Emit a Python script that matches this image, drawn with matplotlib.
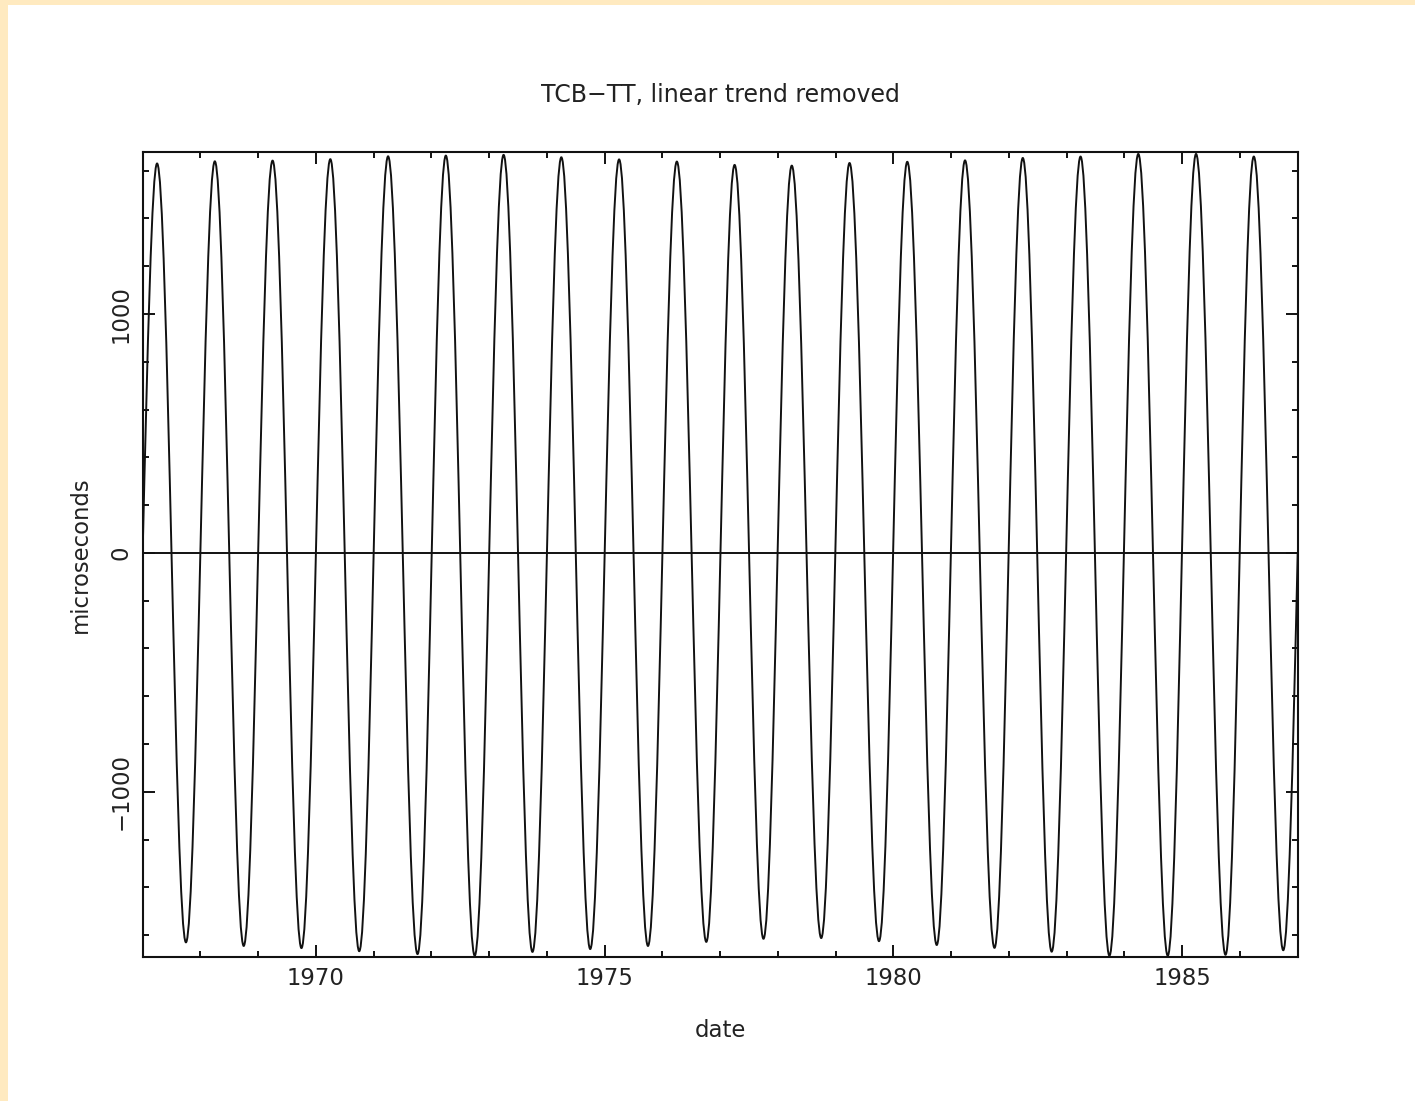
import matplotlib
matplotlib.use("Agg")
import matplotlib.pyplot as plt
from matplotlib.path import Path
from matplotlib.patches import PathPatch, Rectangle
from matplotlib.ticker import MultipleLocator

# turning points of the TCB-TT curve (decimal year, microseconds)
peak_dates = [1967.25, 1968.25, 1969.25, 1970.25, 1971.25, 1972.25, 1973.25, 1974.25, 1975.25, 1976.25,
              1977.25, 1978.24, 1979.24, 1980.24, 1981.24, 1982.24, 1983.24, 1984.24, 1985.24, 1986.24]
peak_values = [1630, 1639, 1642, 1648, 1660, 1663, 1666, 1656, 1647, 1638,
               1624, 1621, 1632, 1637, 1643, 1653, 1659, 1670, 1670, 1659]
trough_dates = [1967.75, 1968.75, 1969.75, 1970.75, 1971.76, 1972.75, 1973.75, 1974.75, 1975.75, 1976.76,
                1977.75, 1978.75, 1979.75, 1980.75, 1981.75, 1982.74, 1983.74, 1984.75, 1985.75, 1986.75]
trough_values = [-1630, -1645, -1654, -1667, -1679, -1686, -1670, -1658, -1645, -1628,
                 -1615, -1612, -1625, -1641, -1653, -1669, -1686, -1686, -1682, -1663]
start_date = 1967.0
end_date = 1987.0

x_major = [1970, 1975, 1980, 1985]
y_major = [-1000, 0, 1000]

plt.rcParams['font.family'] = 'DejaVu Sans'
plt.rcParams['font.size'] = 16.4
ink = '#222222'

fig = plt.figure(figsize=(14.15, 11.01), dpi=100, facecolor='#FFEAC0')
# white page inside the cream frame
fig.add_artist(Rectangle((8 / 1415, 0), 1, 1 - 5 / 1101, transform=fig.transFigure,
                         facecolor='white', edgecolor='none', zorder=-1))

ax = fig.add_axes([0.1008, 0.1311, 0.8163, 0.7308])

# alternate peaks and troughs
turn_x, turn_y = [], []
for a, b, c, d in zip(peak_dates, peak_values, trough_dates, trough_values):
    turn_x += [a, c]
    turn_y += [b, d]

# smooth path through the turning points (cubic bezier segments)
verts = [(start_date, 0)]
dx = turn_x[0] - start_date
verts += [(start_date + 0.326 * dx, 0.512 * turn_y[0]),
          (start_date + 0.655 * dx, turn_y[0]),
          (turn_x[0], turn_y[0])]
for x0, y0, x1, y1 in zip(turn_x[:-1], turn_y[:-1], turn_x[1:], turn_y[1:]):
    k = 0.3634 * (x1 - x0)
    verts += [(x0 + k, y0), (x1 - k, y1), (x1, y1)]
dx = end_date - turn_x[-1]
verts += [(turn_x[-1] + 0.345 * dx, turn_y[-1]),
          (turn_x[-1] + 0.674 * dx, 0.512 * turn_y[-1]),
          (end_date, 0)]
codes = [Path.MOVETO] + [Path.CURVE4] * (len(verts) - 1)
ax.add_patch(PathPatch(Path(verts, codes), fill=False, edgecolor='#111111', lw=1.4))

ax.axhline(0, color='#111111', lw=1.4)

ax.set_xlim(start_date, end_date)
ax.set_ylim(-1690, 1678)

ax.xaxis.set_major_locator(MultipleLocator(5))
ax.xaxis.set_minor_locator(MultipleLocator(1))
ax.yaxis.set_major_locator(MultipleLocator(1000))
ax.yaxis.set_minor_locator(MultipleLocator(200))
ax.set_xticks(x_major)
ax.set_yticks(y_major)
ax.set_yticklabels([f"{v:d}".replace('-', '\u2212') for v in y_major], rotation=90, va='center')

ax.tick_params(which='both', direction='in', top=True, right=True, colors='#111111',
               labelcolor=ink, width=1.4)
ax.tick_params(which='major', length=8.6, pad=7.5)
ax.tick_params(which='minor', length=4.3)
for s in ax.spines.values():
    s.set_linewidth(1.5)
    s.set_color('#111111')

ax.set_xlabel('date', color=ink)
ax.xaxis.set_label_coords(0.5, -0.078)
ax.set_ylabel('microseconds', color=ink)
ax.yaxis.set_label_coords(-0.044, 0.5)

fig.text(720 / 1415, 1 - 102 / 1101, 'TCB\u2212TT, linear trend removed', ha='center', va='baseline',
         color=ink, fontsize=17)

fig.savefig('out.png', dpi=100, facecolor=fig.get_facecolor())
